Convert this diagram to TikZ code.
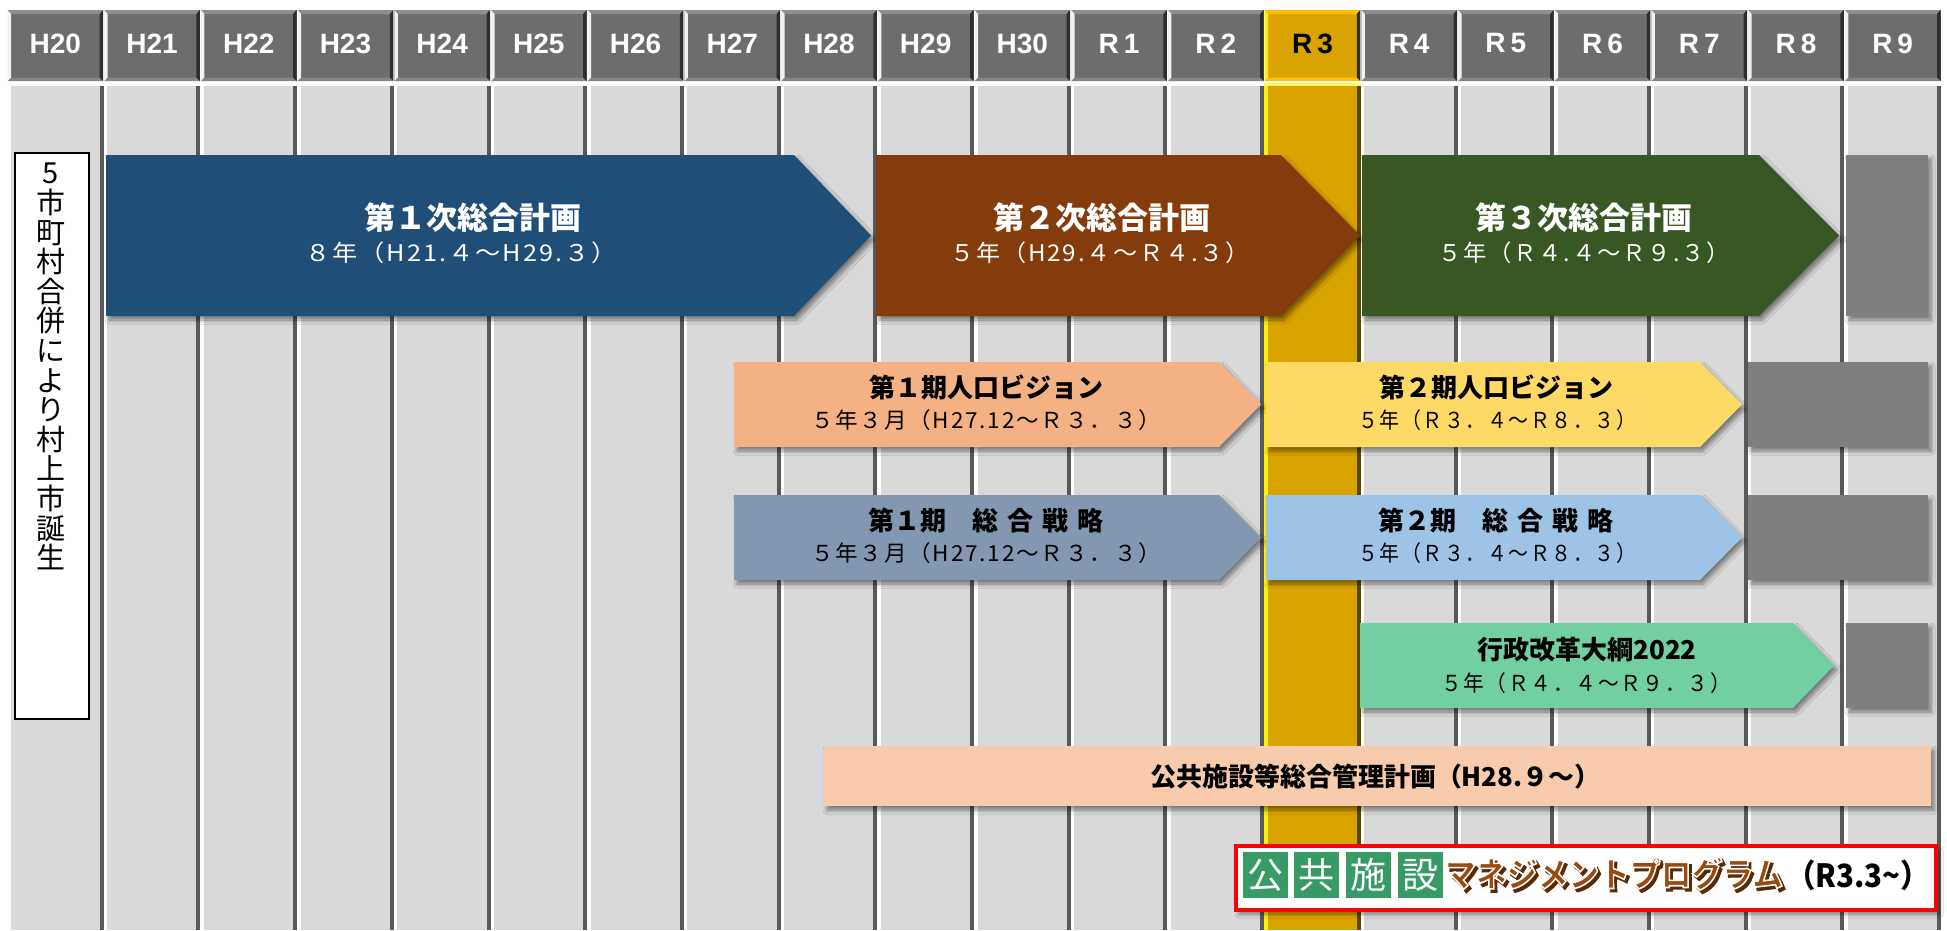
\documentclass[tikz,border=0pt]{standalone}
\usepackage{fontspec}
\setmainfont{Liberation Sans}
\newfontfamily\jp{Noto Sans CJK JP}
\usetikzlibrary{shadows.blur}
\definecolor{hdr}{HTML}{6D6D6D}
\definecolor{hdrtop}{HTML}{8E8E8E}
\definecolor{hdrbot}{HTML}{858585}
\definecolor{hdrl}{HTML}{F2F2F2}
\definecolor{hdrr}{HTML}{2E2E2E}
\definecolor{bodyg}{HTML}{D9D9D9}
\definecolor{darkstrip}{HTML}{595959}
\definecolor{gold}{HTML}{DAA400}
\definecolor{goldtop}{HTML}{FFC000}
\definecolor{goldl}{HTML}{FFF200}
\definecolor{goldr}{HTML}{5E4700}
\definecolor{cblue}{HTML}{1F4E79}
\definecolor{cbrown}{HTML}{843C0C}
\definecolor{cgreen}{HTML}{385723}
\definecolor{cpeach}{HTML}{F4B183}
\definecolor{cyellow}{HTML}{FFD966}
\definecolor{cslate}{HTML}{8497B0}
\definecolor{clblue}{HTML}{9DC3E6}
\definecolor{cmint}{HTML}{72CFA2}
\definecolor{cgray}{HTML}{7F7F7F}
\definecolor{clpeach}{HTML}{F8CBAD}
\definecolor{sqgreen}{HTML}{389B66}
\definecolor{mbrown}{HTML}{9A4A10}
\definecolor{mshadow}{HTML}{5A2A06}
\newcommand\fitw[2]{\resizebox{#1pt}{\height}{#2}}
\newcommand\spfit[2]{\resizebox{#1pt}{\height}{\addfontfeature{LetterSpace=8}#2}}
\newcommand\outlined[1]{%
  \rlap{\hspace*{3pt}\raisebox{-3pt}{\color{mshadow}\special{pdf:literal direct 2 Tr 2 w}#1\special{pdf:literal direct 0 Tr}}}%
  {\color{mbrown}\special{pdf:literal direct 2 Tr 1.6 w 1 1 1 RG}#1\special{pdf:literal direct 0 Tr}}}
\tikzset{
  shad/.style={blur shadow={shadow xshift=3pt, shadow yshift=-4pt, shadow blur radius=4pt, shadow blur steps=8, shadow opacity=45}},
  hlab/.style={font=\bfseries\fontsize{28}{28}\selectfont, inner sep=0pt},
  bigttl/.style={font=\jp\bfseries\fontsize{31}{31}\selectfont, text=white, inner sep=0pt},
  bigsub/.style={font=\jp\fontsize{23}{23}\selectfont, text=white, inner sep=0pt},
  ttl/.style={font=\jp\bfseries\fontsize{26}{26}\selectfont, text=black, inner sep=0pt},
  sub/.style={font=\jp\fontsize{22}{22}\selectfont, text=black, inner sep=0pt},
  sq/.style={fill=sqgreen, minimum width=45pt, minimum height=46pt, inner sep=0pt, text=white, font=\jp\fontsize{36}{36}\selectfont},
  mfont/.style={font=\jp\bfseries\fontsize{34}{34}\selectfont, inner sep=0pt}
}
\newcommand\chev[6]{% xs, xb, xt, yt, yb, color
  \fill[shad, #6] (#1,#4) -- (#2,#4) -- (#3,{(#4+#5)/2}) -- (#2,#5) -- (#1,#5) -- cycle;}
\begin{document}
\begin{tikzpicture}[x=1pt,y=-1pt]
\useasboundingbox (0,0) rectangle (1947,930);
\fill[white] (0,0) rectangle (1947,930);
% columns
\foreach \lab [count=\n from 0] in {H20,H21,H22,H23,H24,H25,H26,H27,H28,H29,H30,R\hspace{5pt}1,R\hspace{5pt}2,R\hspace{5pt}3,R\hspace{5pt}4,R\hspace{5pt}5,R\hspace{5pt}6,R\hspace{5pt}7,R\hspace{5pt}8,R\hspace{5pt}9}{
  \pgfmathsetmacro\xa{7+96.7*\n}
  \pgfmathsetmacro\xb{\xa+96.7}
  \ifnum\n=13
    \def\bc{gold}\def\lc{goldl}\def\rc{goldr}\def\hc{gold}\def\htc{goldtop}\def\hlc{goldl}\def\hbc{goldtop}\def\tc{black}
  \else
    \def\bc{bodyg}\def\lc{white}\def\rc{darkstrip}\def\hc{hdr}\def\htc{hdrtop}\def\hlc{hdrl}\def\hbc{hdrbot}\def\tc{white}
  \fi
  \fill[\bc] (\xa,83) rectangle (\xb,930);
  \fill[\lc] (\xa,83) rectangle (\xa+3.5,930);
  \fill[\lc!60!white] (\xa,83) rectangle (\xb,86);
  \fill[\rc] (\xb-4,86) rectangle (\xb,930);
  \fill[\hc] (\xa+0.5,10) rectangle (\xb-0.5,81);
  \fill[\htc] (\xa+0.5,10) -- (\xb-0.5,10) -- (\xb-4,14) -- (\xa+4,14) -- cycle;
  \fill[\hbc] (\xa+0.5,81) -- (\xb-0.5,81) -- (\xb-4,77.5) -- (\xa+4,77.5) -- cycle;
  \fill[\hlc] (\xa+0.5,10) -- (\xa+4,14) -- (\xa+4,77.5) -- (\xa+0.5,81) -- cycle;
  \fill[hdrr] (\xb-0.5,10) -- (\xb-0.5,81) -- (\xb-4,77.5) -- (\xb-4,14) -- cycle;
  \node[hlab, text=\tc] (h\n) at ({(\xa+\xb)/2},43.5) {\lab};
}
% merge box
\node[draw=black, line width=1.5pt, fill=white, minimum width=74pt, minimum height=566pt, inner sep=0pt, anchor=north west] (mergebox) at (14,152) {};
\node[font=\jp\fontsize{29}{29.6}\selectfont, align=center, inner sep=0pt, anchor=north] (mergetext) at (51,163)
  {5\\市\\町\\村\\合\\併\\に\\よ\\り\\村\\上\\市\\誕\\生};
% row 1
\chev{106}{794}{871}{155}{316}{cblue}
\chev{876}{1281}{1360}{155}{316}{cbrown}
\chev{1362}{1759}{1839}{155}{316}{cgreen}
\fill[shad, cgray] (1846,155) rectangle (1928,316);
\node[bigttl] (t1) at (473,218) {第１次総合計画};
\node[bigsub] (s1) at (461,253) {\spfit{312}{８年（H21.４～H29.３）}};
\node[bigttl] (t2) at (1102,218) {第２次総合計画};
\node[bigsub] (s2) at (1100,253) {\spfit{300}{５年（H29.４～Ｒ４.３）}};
\node[bigttl] (t3) at (1584,218) {第３次総合計画};
\node[bigsub] (s3) at (1584,253) {\spfit{292}{５年（Ｒ４.４～Ｒ９.３）}};
% row 2
\chev{734}{1219}{1261}{362}{447}{cpeach}
\chev{1266}{1700}{1742}{362}{447}{cyellow}
\fill[shad, cgray] (1748,362) rectangle (1928,447);
\node[ttl] (v1) at (986,387) {第１期人口ビジョン};
\node[sub] (vs1) at (986,420) {\spfit{350}{５年３月（H27.12～Ｒ３．３）}};
\node[ttl] (v2) at (1496,387) {第２期人口ビジョン};
\node[sub] (vs2) at (1497,420) {\spfit{278}{５年（Ｒ３．４～Ｒ８．３）}};
% row 3
\chev{734}{1219}{1261}{495}{580}{cslate}
\chev{1266}{1700}{1742}{495}{580}{clblue}
\fill[shad, cgray] (1748,495) rectangle (1928,580);
\node[ttl] (g1) at (986,521) {第１期　総\hspace{9pt}合\hspace{9pt}戦\hspace{9pt}略};
\node[sub] (gs1) at (986,553) {\spfit{350}{５年３月（H27.12～Ｒ３．３）}};
\node[ttl] (g2) at (1496,521) {第２期　総\hspace{9pt}合\hspace{9pt}戦\hspace{9pt}略};
\node[sub] (gs2) at (1497,553) {\spfit{278}{５年（Ｒ３．４～Ｒ８．３）}};
% row 4
\chev{1360}{1793}{1834}{623}{708}{cmint}
\fill[shad, cgray] (1846,623) rectangle (1928,708);
\node[ttl] (a1) at (1587,650) {行政改革大綱2022};
\node[sub] (as1) at (1586,683) {\spfit{290}{５年（Ｒ４．４～Ｒ９．３）}};
% row 5
\fill[shad, clpeach] (824,746) rectangle (1931,806);
\node[ttl] (p1) at (1375,777) {公共施設等総合管理計画\fitw{164}{（H28.９～）}};
% management program
\node[shad, draw=red, line width=4pt, fill=white, minimum width=700pt, minimum height=64pt, inner sep=0pt, anchor=north west] (mgmt) at (1234,844) {};
\node[sq] (k1) at (1265.5,875) {公};
\node[sq] (k2) at (1316.5,875) {共};
\node[sq] (k3) at (1368,875) {施};
\node[sq] (k4) at (1420.5,875) {設};
\node[mfont] (mprog) at (1614,875) {\fitw{338}{\outlined{マネジメントプログラム}}};
\node[font=\jp\bfseries\fontsize{32}{32}\selectfont, inner sep=0pt] (mdate) at (1858,875) {\fitw{144}{（R3.3\textasciitilde）}};
\end{tikzpicture}
\end{document}
